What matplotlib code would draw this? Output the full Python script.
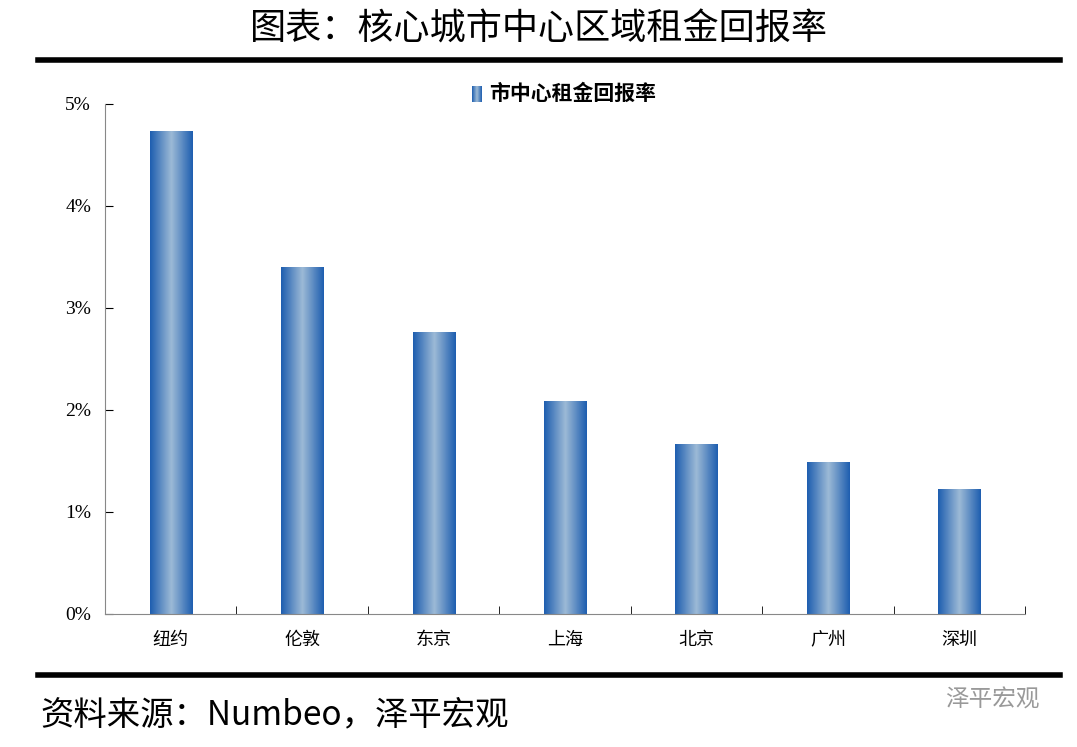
import numpy as np
import matplotlib
matplotlib.use("Agg")
import matplotlib.pyplot as plt
from matplotlib.colors import LinearSegmentedColormap

plt.rcParams['font.family'] = ['Noto Sans CJK SC', 'DejaVu Sans']

cities = ['纽约', '伦敦', '东京', '上海', '北京', '广州', '深圳']
rent_yield = [4.73, 3.40, 2.76, 2.08, 1.66, 1.49, 1.22]
yticks = [0, 1, 2, 3, 4, 5]
ytick_labels = ['0%', '1%', '2%', '3%', '4%', '5%']

fig = plt.figure(figsize=(10.77, 7.47), dpi=100)
ax = fig.add_axes([105/1077, 1-614/747, 920/1077, 510/747])

# 蓝色渐变柱子
cmap = LinearSegmentedColormap.from_list('bar', ['#1f5fb0', '#9dbad6', '#1f5fb0'])
grad = np.linspace(0, 1, 64).reshape(1, -1)
width = 0.32
x = np.arange(len(cities))
for xi, v in zip(x, rent_yield):
    ax.imshow(grad, cmap=cmap, aspect='auto', extent=[xi - width/2, xi + width/2, 0, v], zorder=2)

ax.set_xlim(-0.5, len(cities) - 0.5)
ax.set_ylim(0, 5)
ax.set_xticks(x)
ax.set_xticklabels(cities, fontsize=13)
ax.set_xticks(np.arange(len(cities) + 1) - 0.5, minor=True)
ax.tick_params(axis='x', which='major', length=0, pad=12)
ax.tick_params(axis='x', which='minor', length=6, direction='in')
ax.set_yticks(yticks)
ax.set_yticklabels(ytick_labels, fontsize=14, family='Liberation Serif')
ax.tick_params(axis='y', length=6, direction='in', pad=10)
for s in ['top', 'right']:
    ax.spines[s].set_visible(False)
for s in ['left', 'bottom']:
    ax.spines[s].set_color('#888888')

# 图例
ax.imshow(grad, cmap=cmap, aspect='auto', extent=[2.29, 2.36, 5.02, 5.17], zorder=3, clip_on=False)
ax.text(2.42, 5.1, '市中心租金回报率', fontsize=15, fontweight='bold', va='center')
ax.set_ylim(0, 5)
ax.set_xlim(-0.5, len(cities) - 0.5)

fig.text(0.5, 1-30/747, '图表：核心城市中心区域租金回报率', ha='center', va='center', fontsize=26)
fig.add_artist(plt.Line2D([38/1077, 1060/1077], [1-60/747]*2, color='black', lw=4))
fig.add_artist(plt.Line2D([38/1077, 1060/1077], [1-675/747]*2, color='black', lw=4))
fig.text(40/1077, 1-715/747, '资料来源：Numbeo，泽平宏观', ha='left', va='center', fontsize=24, style='italic')
fig.text(1040/1077, 1-700/747, '泽平宏观', ha='right', va='center', fontsize=17, color='#999999')

fig.savefig('out.png', dpi=100)
